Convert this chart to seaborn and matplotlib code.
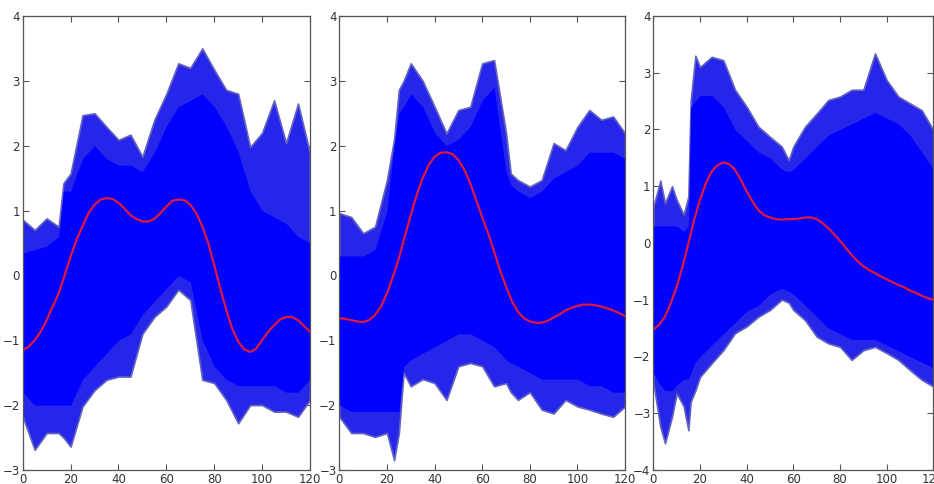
import numpy as np
import pandas as pd
import matplotlib
matplotlib.use("Agg")
import matplotlib.pyplot as plt
import seaborn as sns

# ---- panel 1 ----
p1_x = [0, 5, 10, 15, 17, 20, 25, 30, 35, 40, 45, 50, 55, 60, 65, 70, 75, 80, 85, 90, 95, 100, 105, 110, 115, 120]
p1_top = [0.86, 0.70, 0.88, 0.75, 1.42, 1.57, 2.47, 2.5, 2.29, 2.09, 2.17, 1.83, 2.4, 2.8, 3.27, 3.2, 3.5, 3.17, 2.86, 2.8, 1.98, 2.2, 2.7, 2.04, 2.65, 1.88]
p1_core_top = [0.34, 0.4, 0.45, 0.6, 1.3, 1.3, 1.8, 2.0, 1.8, 1.7, 1.7, 1.6, 1.9, 2.3, 2.6, 2.7, 2.8, 2.6, 2.3, 1.9, 1.3, 1.0, 0.9, 0.8, 0.6, 0.5]
p1_core_bot = [-1.8, -2.0, -2.0, -2.0, -2.0, -2.0, -1.6, -1.4, -1.2, -1.0, -0.9, -0.6, -0.4, -0.2, 0.0, -0.1, -1.0, -1.4, -1.6, -1.7, -1.7, -1.7, -1.7, -1.8, -1.8, -1.6]
p1_bot = [-2.18, -2.69, -2.43, -2.43, -2.5, -2.64, -2.02, -1.77, -1.61, -1.56, -1.56, -0.9, -0.64, -0.48, -0.22, -0.38, -1.61, -1.66, -1.92, -2.28, -2.0, -2.0, -2.1, -2.1, -2.18, -1.92]
p1_mean = [-1.15, -1.1, -1.0, -0.87, -0.69, -0.48, -0.28, 0.0, 0.29, 0.55, 0.76, 0.96, 1.09, 1.17,
           1.19, 1.18, 1.12, 1.03, 0.93, 0.87, 0.83, 0.83, 0.87, 0.96, 1.06, 1.15, 1.17, 1.16, 1.09,
           0.96, 0.76, 0.5, 0.16, -0.2, -0.53, -0.82, -1.02, -1.14, -1.18, -1.13, -1.0, -0.87, -0.77,
           -0.68, -0.64, -0.64, -0.69, -0.78, -0.87]

# ---- panel 2 ----
p2_x = [0, 5, 10, 15, 20, 23, 25, 27, 30, 35, 40, 45, 50, 55, 60, 65, 70, 72, 75, 80, 85, 90, 95, 100, 105, 110, 115, 120]
p2_top = [0.96, 0.9, 0.65, 0.75, 1.47, 2.1, 2.86, 3.0, 3.27, 3.0, 2.6, 2.19, 2.55, 2.6, 3.27, 3.32, 2.2, 1.57, 1.47, 1.37, 1.47, 2.04, 1.93, 2.29, 2.55, 2.4, 2.45, 2.19]
p2_core_top = [0.3, 0.3, 0.3, 0.4, 1.0, 2.0, 2.5, 2.6, 2.8, 2.6, 2.2, 2.0, 2.1, 2.3, 2.7, 2.9, 1.6, 1.4, 1.3, 1.2, 1.3, 1.5, 1.6, 1.7, 1.9, 1.9, 1.9, 1.8]
p2_core_bot = [-2.0, -2.1, -2.1, -2.1, -2.1, -2.1, -2.1, -1.4, -1.3, -1.2, -1.1, -1.0, -0.9, -0.9, -1.0, -1.1, -1.3, -1.35, -1.4, -1.5, -1.6, -1.6, -1.6, -1.6, -1.7, -1.7, -1.8, -1.8]
p2_bot = [-2.18, -2.43, -2.43, -2.49, -2.43, -2.85, -2.43, -1.5, -1.71, -1.6, -1.66, -1.92, -1.4, -1.35, -1.4, -1.71, -1.66, -1.8, -1.92, -1.8, -2.07, -2.13, -1.92, -2.02, -2.07, -2.13, -2.18, -2.02]
p2_mean = [-0.66, -0.67, -0.69, -0.71, -0.72, -0.69, -0.61, -0.48, -0.28, -0.02, 0.26, 0.6, 0.93,
           1.24, 1.5, 1.7, 1.83, 1.89, 1.9, 1.87, 1.78, 1.63, 1.42, 1.16, 0.9, 0.65, 0.37, 0.08,
           -0.17, -0.4, -0.56, -0.66, -0.71, -0.73, -0.73, -0.7, -0.65, -0.6, -0.54, -0.5, -0.47,
           -0.45, -0.45, -0.46, -0.48, -0.51, -0.54, -0.58, -0.63]

# ---- panel 3 ----
p3_x = [0, 3, 5, 8, 10, 13, 15, 16, 18, 20, 25, 30, 35, 40, 45, 50, 55, 58, 60, 65, 70, 75, 80, 85, 90, 95, 100, 105, 110, 115, 120]
p3_top = [0.64, 1.1, 0.7, 1.0, 0.76, 0.5, 0.82, 2.5, 3.3, 3.1, 3.28, 3.22, 2.7, 2.4, 2.05, 1.87, 1.7, 1.46, 1.7, 2.05, 2.28, 2.52, 2.58, 2.7, 2.7, 3.34, 2.87, 2.58, 2.46, 2.34, 1.99]
p3_core_top = [0.3, 0.3, 0.3, 0.3, 0.3, 0.2, 0.3, 2.4, 2.5, 2.6, 2.6, 2.4, 2.0, 1.8, 1.6, 1.5, 1.3, 1.25, 1.3, 1.5, 1.7, 1.9, 2.0, 2.1, 2.2, 2.3, 2.2, 2.1, 1.9, 1.6, 1.3]
p3_core_bot = [-2.3, -2.5, -2.6, -2.6, -2.5, -2.4, -2.4, -2.3, -2.1, -2.0, -1.8, -1.6, -1.4, -1.2, -1.1, -0.9, -0.8, -0.85, -0.9, -1.1, -1.3, -1.5, -1.6, -1.7, -1.7, -1.7, -1.8, -1.9, -2.0, -2.1, -2.2]
p3_bot = [-2.47, -3.24, -3.53, -3.06, -2.65, -2.88, -3.3, -2.8, -2.6, -2.36, -2.12, -1.89, -1.59, -1.47, -1.3, -1.18, -1.0, -1.05, -1.18, -1.36, -1.65, -1.77, -1.83, -2.06, -1.89, -1.83, -1.94, -2.06, -2.24, -2.41, -2.53]
p3_mean = [-1.53, -1.44, -1.3, -1.06, -0.77, -0.42, -0.01, 0.41, 0.76, 1.05, 1.26, 1.37, 1.42, 1.39,
           1.29, 1.11, 0.91, 0.73, 0.58, 0.49, 0.45, 0.42, 0.41, 0.42, 0.42, 0.43, 0.45, 0.45, 0.42,
           0.35, 0.26, 0.15, 0.04, -0.09, -0.21, -0.32, -0.41, -0.48, -0.53, -0.59, -0.64, -0.69,
           -0.74, -0.78, -0.84, -0.88, -0.93, -0.97, -1.0]

# mean curves were read every 2.5 time units
mean_t = [i * 2.5 for i in range(49)]

panels = [
    (p1_x, p1_top, p1_core_top, p1_core_bot, p1_bot, p1_mean, (-3, 4)),
    (p2_x, p2_top, p2_core_top, p2_core_bot, p2_bot, p2_mean, (-3, 4)),
    (p3_x, p3_top, p3_core_top, p3_core_bot, p3_bot, p3_mean, (-4, 4)),
]

sns.set_style("ticks")
fig = plt.figure(figsize=(9.34, 4.84), dpi=100)
boxes = [[0.0243, 0.029, 0.3076, 0.938],
         [0.3633, 0.029, 0.3059, 0.938],
         [0.6995, 0.029, 0.2998, 0.938]]

for box, (x, top, ctop, cbot, bot, mean, ylim) in zip(boxes, panels):
    ax = fig.add_axes(box)
    # outer fringe of the noisy traces
    ax.fill_between(x, bot, top, color="#2626ea", linewidth=1.2, edgecolor="#6464c0")
    # dense core
    ax.fill_between(x, cbot, ctop, color="#0000ff", linewidth=0)
    df = pd.DataFrame({"t": mean_t, "v": mean})
    sns.lineplot(data=df, x="t", y="v", ax=ax, color="#e0183c", linewidth=1.6)
    ax.set_xlim(0, 120)
    ax.set_ylim(*ylim)
    ax.set_xticks(range(0, 121, 20))
    ax.set_yticks(range(ylim[0], ylim[1] + 1))
    ax.set_xlabel("")
    ax.set_ylabel("")
    ax.tick_params(direction="in", top=True, right=True, length=4, width=0.8,
                   labelsize=8.5, labelcolor="#333333", color="#555555", pad=2)
    for s in ax.spines.values():
        s.set_color("#555555")
        s.set_linewidth(0.9)

fig.savefig("out.png", dpi=100, facecolor="white")
